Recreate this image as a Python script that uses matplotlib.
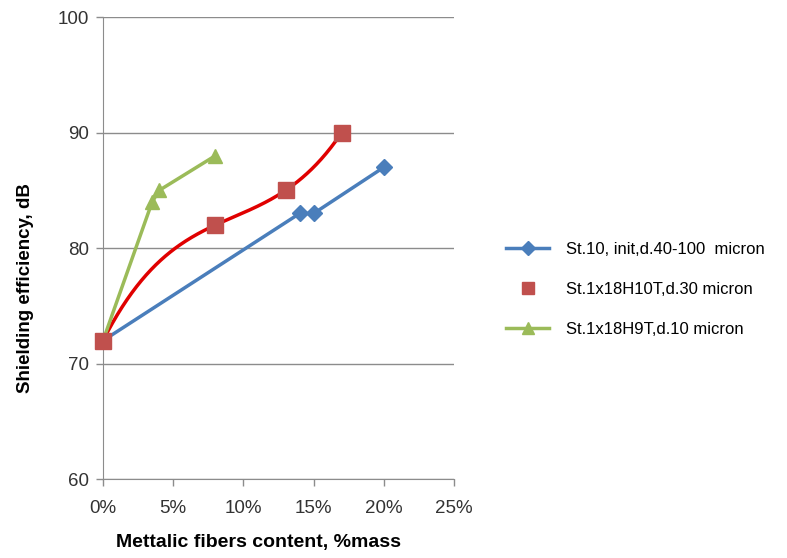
import numpy as np
import matplotlib.pyplot as plt
from matplotlib.lines import Line2D
from matplotlib.ticker import FuncFormatter

# data (x in % mass, y in dB)
blue_x = [0, 14, 15, 20]
blue_y = [72, 83, 83, 87]
red_x = [0, 8, 13, 17]
red_y = [72, 82, 85, 90]
green_x = [0, 3.5, 4, 8]
green_y = [72, 84, 85, 88]

labels = ['St.10, init,d.40-100  micron',
          'St.1x18H10T,d.30 micron',
          'St.1x18H9T,d.10 micron']
x_ticks = [0, 5, 10, 15, 20, 25]
y_ticks = [60, 70, 80, 90, 100]

c_blue = '#4a7ebb'
c_red = '#c0504d'
c_redline = '#e00000'
c_green = '#9bbb59'
c_grid = '#8c8c8c'

plt.rcParams['font.family'] = ['Liberation Sans', 'DejaVu Sans']

fig = plt.figure(figsize=(7.87, 5.58), dpi=100)
ax = fig.add_axes([0.1309, 0.1410, 0.4460, 0.8285])

# red series has a polynomial (order 3) trendline in the original
coef = np.polyfit(red_x, red_y, 3)
tx = np.linspace(min(red_x), max(red_x), 200)
ax.plot(tx, np.polyval(coef, tx), color=c_redline, lw=2.5, zorder=3,
        clip_on=False)

ax.plot(blue_x, blue_y, color=c_blue, lw=2.5, marker='D', ms=8, zorder=3,
        clip_on=False)
ax.plot(red_x, red_y, ls='none', color=c_red, marker='s', ms=11, zorder=4,
        clip_on=False)
ax.plot(green_x, green_y, color=c_green, lw=2.5, marker='^', ms=10, zorder=3,
        clip_on=False)

ax.set_xlim(0, 25)
ax.set_ylim(60, 100)
ax.set_xticks(x_ticks)
ax.set_yticks(y_ticks)
ax.xaxis.set_major_formatter(FuncFormatter(lambda v, p: '%d%%' % v))
ax.yaxis.grid(True, color=c_grid, lw=1)
ax.set_axisbelow(True)
for s in ['top', 'right']:
    ax.spines[s].set_visible(False)
for s in ['left', 'bottom']:
    ax.spines[s].set_color(c_grid)
ax.tick_params(colors=c_grid, length=5, width=1)
ax.tick_params(labelcolor='#333333', labelsize=13.5)
ax.tick_params(axis='x', pad=10)
ax.tick_params(axis='y', pad=5)

fig.text(259 / 787, 1 - 542 / 558, 'Mettalic fibers content, %mass',
         fontsize=14, fontweight='bold', ha='center', va='center')
fig.text(26 / 787, 1 - 288 / 558, 'Shielding efficiency, dB', fontsize=13.5,
         fontweight='bold', rotation=90, ha='center', va='center')

handles = [
    Line2D([], [], color=c_blue, lw=2.5, marker='D', ms=7),
    Line2D([], [], ls='none', color=c_red, marker='s', ms=9),
    Line2D([], [], color=c_green, lw=2.5, marker='^', ms=8),
]
fig.legend(handles, labels, loc='center left', bbox_to_anchor=(0.624, 0.482),
           frameon=False, fontsize=12, handlelength=2.6, handletextpad=1.0,
           labelspacing=1.5)

fig.savefig('out.png', dpi=100)
